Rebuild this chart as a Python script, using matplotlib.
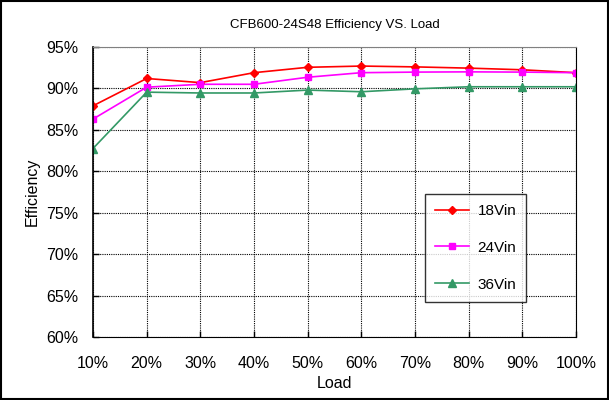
import matplotlib
matplotlib.use("Agg")
import matplotlib.pyplot as plt
from matplotlib.ticker import FuncFormatter
from matplotlib.patches import Rectangle

plt.rcParams['font.family'] = ['Liberation Sans', 'DejaVu Sans']

loads = [10, 20, 30, 40, 50, 60, 70, 80, 90, 100]
eff_18 = [87.9, 91.2, 90.7, 91.9, 92.55, 92.7, 92.6, 92.45, 92.25, 91.9]
eff_24 = [86.3, 90.15, 90.5, 90.5, 91.35, 91.9, 91.97, 92.0, 91.97, 91.9]
eff_36 = [82.75, 89.55, 89.45, 89.45, 89.8, 89.6, 89.95, 90.2, 90.2, 90.2]
labels = ['18Vin', '24Vin', '36Vin']

fig = plt.figure(figsize=(6.09, 4.0), dpi=100)
ax = fig.add_axes([0.1527, 0.1575, 0.7931, 0.725])

ax.plot(loads, eff_18, color='#FF0000', marker='D', markersize=4.5, lw=1.2, label=labels[0])
ax.plot(loads, eff_24, color='#FF00FF', marker='s', markersize=5, lw=1.2, label=labels[1])
ax.plot(loads, eff_36, color='#339966', marker='^', markersize=5.5, lw=1.2, label=labels[2])

ax.set_xlim(10, 100)
ax.set_ylim(60, 95)
ax.set_xticks(loads)
ax.set_yticks(range(60, 96, 5))
ax.xaxis.set_major_formatter(FuncFormatter(lambda v, p: f"{int(v)}%"))
ax.yaxis.set_major_formatter(FuncFormatter(lambda v, p: f"{int(v)}%"))
ax.grid(True, color='black', linestyle=(0, (1, 1)), linewidth=0.8)
ax.tick_params(axis='x', direction='in', length=4, width=1, labelsize=11.5, pad=13.5)
ax.tick_params(axis='y', direction='in', length=4, width=1, labelsize=11.5, pad=10.5)
for s in ax.spines.values():
    s.set_color('#808080')
    s.set_linewidth(0.8)
ax.spines['left'].set_color('black')
ax.spines['left'].set_linewidth(1.2)
ax.spines['bottom'].set_color('black')
ax.spines['right'].set_color('black')

fig.text(0.5 * (0.1527 + 0.9458), 1 - 25 / 400, 'CFB600-24S48 Efficiency VS. Load',
         fontsize=9.5, ha='center', va='center')
fig.text(0.5 * (0.1527 + 0.9458), 1 - 384 / 400, 'Load', fontsize=11.5, ha='center', va='center')
fig.text(32 / 609, 1 - 192 / 400, 'Efficiency', fontsize=11.5, ha='center', va='center',
         rotation=90)

leg = fig.legend(loc='upper left', bbox_to_anchor=(425 / 609, 1 - 194 / 400), frameon=True,
                 fancybox=False, edgecolor='black', fontsize=11, handlelength=2.2,
                 labelspacing=1.5, borderpad=0.65, handletextpad=0.6, borderaxespad=0)
leg.get_frame().set_linewidth(1.0)

fig.patches.append(Rectangle((0.002, 0.002), 0.996, 0.996, transform=fig.transFigure,
                             fill=False, edgecolor='black', linewidth=1.5))

fig.savefig('out.png', dpi=100)
